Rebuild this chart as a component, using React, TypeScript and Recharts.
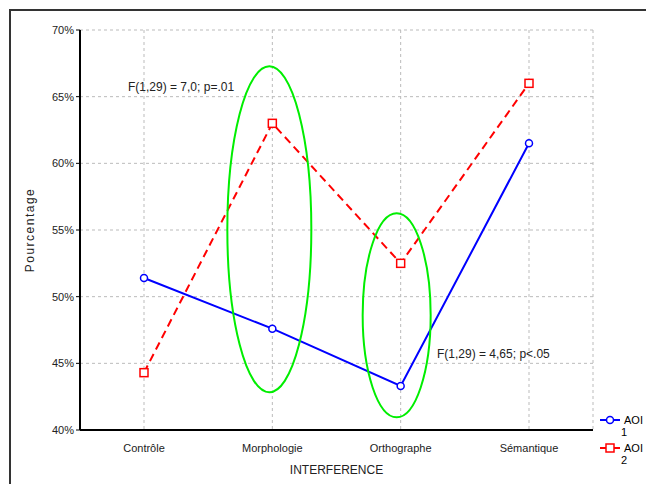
import React from "react";
import {
  LineChart,
  Line,
  XAxis,
  YAxis,
  CartesianGrid,
  ReferenceDot,
} from "recharts";

const categories = ["Contrôle", "Morphologie", "Orthographe", "Sémantique"];
const aoi1 = [51.4, 47.6, 43.3, 61.5];
const aoi2 = [44.3, 63.0, 52.5, 66.0];
const yTicks = [40, 45, 50, 55, 60, 65, 70];

const data = categories.map((c, i) => ({ cat: c, aoi1: aoi1[i], aoi2: aoi2[i] }));

const FONT = "'Liberation Sans', Arial, sans-serif";

function SquareDot(props: any) {
  const { cx, cy } = props;
  if (cx == null || cy == null) return null;
  return (
    <rect x={cx - 4} y={cy - 4} width={8} height={8} fill="#fff" stroke="#ff0000" strokeWidth={1.5} />
  );
}

function Ellipse(rx: number, ry: number, dx: number) {
  return (props: any) => (
    <ellipse
      cx={props.cx + dx}
      cy={props.cy}
      rx={rx}
      ry={ry}
      fill="none"
      stroke="#00ee00"
      strokeWidth={2}
    />
  );
}

function LegendBox() {
  const item = (color: string, square: boolean, num: string, top: number) => (
    <div style={{ position: "absolute", left: 0, top, width: 47, height: 26 }}>
      <svg width={22} height={12} style={{ position: "absolute", left: 0, top: 0 }}>
        <line x1={1} y1={6} x2={21} y2={6} stroke={color} strokeWidth={2} />
        {square ? (
          <rect x={7} y={2} width={8} height={8} fill="#fff" stroke={color} strokeWidth={1.5} />
        ) : (
          <circle cx={11} cy={6} r={3.5} fill="#fff" stroke={color} strokeWidth={1.5} />
        )}
      </svg>
      <div style={{ position: "absolute", left: 25, top: 0, fontSize: 11, lineHeight: "12px", color: "#000", whiteSpace: "nowrap" }}>
        AOI
      </div>
      <div style={{ position: "absolute", left: 22, top: 12, fontSize: 11, lineHeight: "12px", color: "#000" }}>
        {num}
      </div>
    </div>
  );
  return (
    <div style={{ position: "absolute", left: 591, top: 406, width: 49, height: 56, fontFamily: FONT }}>
      {item("#0000ff", false, "1", 0)}
      {item("#ff0000", true, "2", 28)}
    </div>
  );
}

export default function App() {
  return (
    <div style={{ position: "relative", width: 646, height: 476, fontFamily: FONT, background: "#fff" }}>
      <div
        style={{
          position: "absolute",
          left: 1,
          top: 1,
          width: 645,
          height: 475,
          borderTop: "2px solid #333",
          borderLeft: "2px solid #333",
          boxSizing: "border-box",
        }}
      />
      <LineChart
        width={646}
        height={476}
        data={data}
        margin={{ top: 22, right: 61, left: 0, bottom: 24 }}
        style={{ position: "absolute", left: 0, top: 0 }}
      >
        <CartesianGrid xAxisId="b" yAxisId="l" stroke="#bbbbbb" strokeDasharray="3 3" />
        <XAxis
          dataKey="cat"
          xAxisId="b"
          padding={{ left: 64, right: 64 }}
          axisLine={{ stroke: "#000", strokeWidth: 2 }}
          tickLine={false}
          tick={{ fill: "#222", fontSize: 11, fontFamily: FONT }}
          tickMargin={8}
          height={30}
          label={{ value: "INTERFERENCE", position: "insideBottom", offset: -14, fill: "#222", fontSize: 12, fontFamily: FONT }}
        />
        <XAxis
          dataKey="cat"
          xAxisId="t"
          orientation="top"
          padding={{ left: 64, right: 64 }}
          axisLine={{ stroke: "#000", strokeWidth: 2 }}
          tick={false}
          tickLine={false}
          height={0}
        />
        <YAxis
          yAxisId="l"
          domain={[40, 70]}
          ticks={yTicks}
          width={72}
          axisLine={{ stroke: "#000", strokeWidth: 2 }}
          tickLine={{ stroke: "#000" }}
          tickSize={4}
          tickFormatter={(v) => `${v}%`}
          tick={{ fill: "#222", fontSize: 11, fontFamily: FONT }}
          label={{ value: "Pourcentage", angle: -90, position: "insideLeft", offset: 22, fill: "#222", fontSize: 12, fontFamily: FONT, letterSpacing: 1.5, style: { textAnchor: "middle" } }}
        />
        <YAxis yAxisId="r" orientation="right" domain={[40, 70]} axisLine={{ stroke: "#000", strokeWidth: 2 }} tick={false} tickLine={false} width={0} />
        <ReferenceDot xAxisId="b" yAxisId="l" x="Morphologie" y={55.05} r={0} ifOverflow="visible" shape={Ellipse(42, 163, -3)} />
        <ReferenceDot xAxisId="b" yAxisId="l" x="Orthographe" y={48.6} r={0} ifOverflow="visible" shape={Ellipse(34, 102, -4)} />
        <Line
          xAxisId="b"
          yAxisId="l"
          dataKey="aoi1"
          name="AOI 1"
          type="linear"
          stroke="#0000ff"
          strokeWidth={2}
          dot={{ r: 3.5, fill: "#fff", stroke: "#0000ff", strokeWidth: 1.5 }}
          isAnimationActive={false}
        />
        <Line
          xAxisId="b"
          yAxisId="l"
          dataKey="aoi2"
          name="AOI 2"
          type="linear"
          stroke="#ff0000"
          strokeWidth={2}
          strokeDasharray="8 5"
          dot={<SquareDot />}
          isAnimationActive={false}
        />
      </LineChart>
      <LegendBox />
      <div style={{ position: "absolute", left: 120, top: 72, fontSize: 12, color: "#222", whiteSpace: "nowrap" }}>
        F(1,29) = 7,0; p=.01
      </div>
      <div style={{ position: "absolute", left: 429, top: 339, fontSize: 12, color: "#222", whiteSpace: "nowrap" }}>
        F(1,29) = 4,65; p&lt;.05
      </div>
    </div>
  );
}
